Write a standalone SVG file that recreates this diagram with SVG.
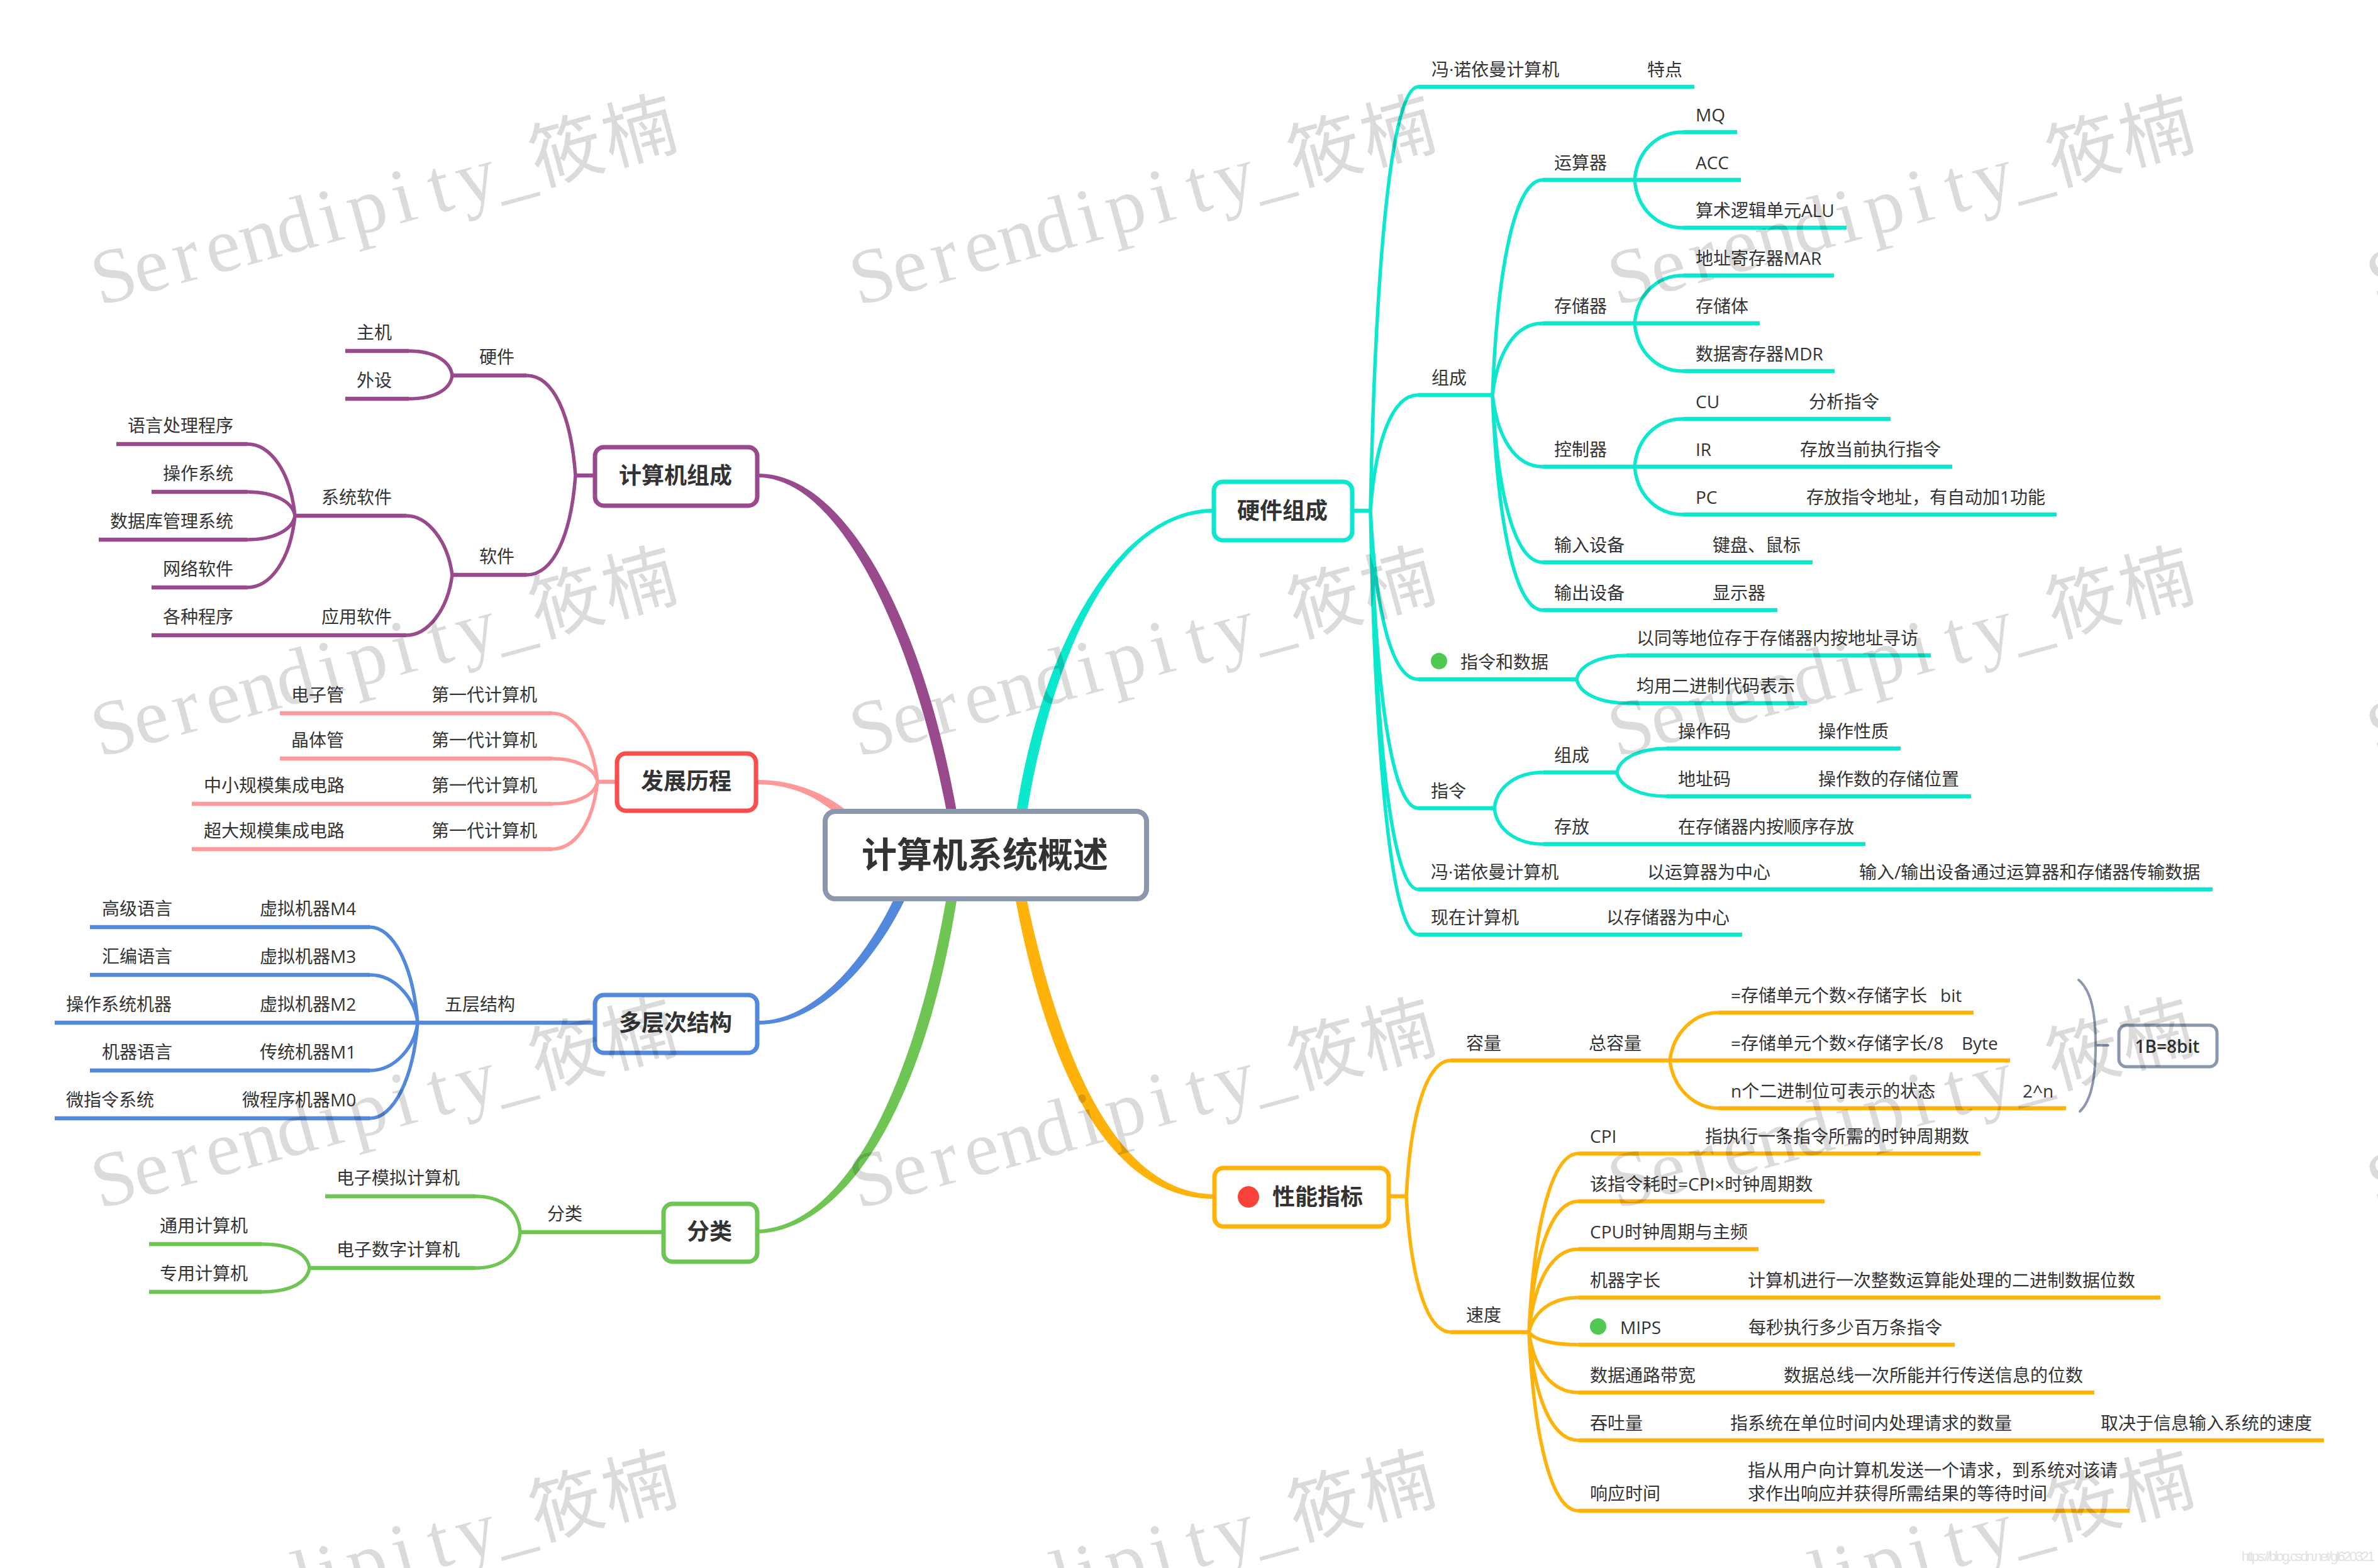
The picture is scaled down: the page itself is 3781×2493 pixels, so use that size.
<svg xmlns="http://www.w3.org/2000/svg" width="3781" height="2493" viewBox="0 0 3781 2493">
<style>
text{font-family:"Open Sans","Noto Sans CJK SC",sans-serif;fill:#333}
.t{font-size:28px}
.n{font-size:36px;font-weight:700}
.m{text-anchor:middle}
.box{fill:#fff;stroke-width:7}
.c{fill:none;stroke-width:5.5;stroke-linecap:round}
.l{fill:none;stroke-width:6.5}
.s{stroke:#984a8c}.r{stroke:#ff9999}.b{stroke:#5289dc}.g{stroke:#6fc554}.o{stroke:#ffb20a}.q{stroke:#0ce8ce}.y{stroke:#8a97ad}
.w{font-family:"Liberation Serif",serif;font-size:124px;fill:#000;fill-opacity:.14;text-anchor:middle}
.w tspan{font-family:"Noto Sans CJK SC",sans-serif;font-size:116px;font-weight:400}
</style>
<defs>
<text id="wm" class="w" x="34 94 152 212 272 332 390 450 510 570 630 690 780 900">Serendipity_<tspan>筱楠</tspan></text>
</defs>
<rect width="3781" height="2493" fill="#fff"/>
<g id="connectors">
<g id="main-branches">
<path fill="#984a8c" d="M1205 753C1350 753 1470 1000 1521 1290L1505 1290C1452 1010 1335 759 1205 759Z"/>
<path fill="#0ce8ce" d="M1929 815C1785 815 1680 1010 1633 1290L1616 1290C1660 1010 1785 809 1929 809Z"/>
<path fill="#ff9999" d="M1205 1240C1260 1240 1310 1260 1345 1288L1322 1288C1290 1262 1250 1247 1205 1247Z"/>
<path fill="#5289dc" d="M1205 1629C1310 1629 1395 1520 1438 1432L1420 1432C1380 1515 1300 1623 1205 1623Z"/>
<path fill="#6fc554" d="M1205 1961C1350 1955 1470 1750 1521 1432L1504 1432C1450 1740 1340 1950 1205 1955Z"/>
<path fill="#ffb20a" d="M1929 1899C1780 1895 1690 1700 1633 1432L1615 1432C1670 1720 1770 1905 1929 1906Z"/>
</g>
<g id="hardware-links">
<path class="c q" d="M2179 812C2187 408 2213 138 2255 138M2179 812C2187 702 2213 628 2255 628M2179 812C2187 973 2213 1080 2255 1080M2179 812C2187 1096 2213 1285 2255 1285M2179 812C2187 1173 2213 1414 2255 1414M2179 812C2187 1216 2213 1486 2255 1486"/>
<path class="c q" d="M2373 628C2381 423 2409 286 2453 286M2373 628C2381 560 2409 514 2453 514M2373 628C2381 696 2409 742 2453 742M2373 628C2381 788 2409 894 2453 894M2373 628C2381 833 2409 970 2453 970"/>
<path class="c q" d="M2599 286C2603 240 2635 210 2676 210M2599 286C2603 332 2635 362 2676 362M2599 514C2603 468 2635 438 2676 438M2599 514C2603 560 2635 590 2676 590M2599 742C2603 696 2635 666 2676 666M2599 742C2603 788 2635 818 2676 818"/>
<path class="c q" d="M2507 1080C2511 1057 2545 1042 2587 1042M2507 1080C2511 1103 2545 1118 2587 1118M2376 1285C2380 1250 2412 1228 2454 1228M2376 1285C2380 1320 2412 1342 2454 1342M2571 1228C2575 1205 2608 1190 2650 1190M2571 1228C2575 1251 2608 1266 2650 1266"/>
<path class="l q" d="M2153 812H2179M2255 138H2694M2255 628H2373M2255 1080H2507M2255 1285H2376M2255 1414H3518M2255 1486H2770M2453 286H2768M2453 514H2798M2453 742H3104M2453 894H2882M2453 970H2826M2676 210H2762M2676 362H2936M2676 438H2916M2676 590H2917M2676 666H3006M2676 818H3270M2587 1042H3070M2587 1118H2873M2454 1228H2571M2454 1342H2966M2650 1190H3022M2650 1266H3134"/>
</g>
<g id="performance-links">
<path class="c o" d="M2236 1902C2243 1772 2268 1686 2307 1686M2236 1902C2243 2032 2268 2118 2307 2118M2655 1686C2661 1640 2695 1610 2733 1610M2655 1686C2661 1732 2695 1762 2733 1762"/>
<path class="c o" d="M2431 2118C2439 1948 2467 1834 2510 1834M2431 2118C2439 1993 2467 1910 2510 1910M2431 2118C2439 2039 2467 1986 2510 1986M2431 2118C2439 2085 2467 2063 2510 2063M2431 2118C2439 2130 2467 2138 2510 2138M2431 2118C2439 2176 2467 2214 2510 2214M2431 2118C2439 2221 2467 2290 2510 2290M2431 2118C2439 2288 2467 2402 2510 2402"/>
<path class="l o" d="M2211 1902H2236M2307 1686H3196M2307 2118H2431M2733 1610H3138M2733 1762H3285M2510 1834H3149M2510 1910H2901M2510 1986H2796M2510 2063H3435M2510 2138H3108M2510 2214H3330M2510 2290H3695M2510 2402H3386"/>
<path class="y" fill="none" stroke-width="4" stroke-linecap="round" d="M3305 1558C3325 1575 3332 1610 3332 1662C3332 1715 3325 1750 3307 1767M3332 1662H3352"/>
</g>
<g id="composition-links">
<path class="c s" d="M915 756C908 660 880 597 837 597M915 756C908 851 880 914 837 914M719 597C716 574 690 558 650 558M719 597C716 620 690 634 650 634M719 914C712 860 680 820 646 820M719 914C712 970 680 1010 646 1010M469 820C462 750 430 706 393 706M469 820C465 797 435 782 393 782M469 820C465 843 435 858 393 858M469 820C462 890 430 934 393 934"/>
<path class="l s" d="M943 756H915M837 597H719M837 914H719M650 558H549M650 634H549M646 820H469M646 1010H241M393 706H185M393 782H241M393 858H157M393 934H241"/>
</g>
<g id="history-links">
<path class="c r" d="M950 1243C943 1178 915 1134 877 1134M950 1243C945 1220 915 1206 877 1206M950 1243C945 1266 915 1278 877 1278M950 1243C943 1308 915 1350 877 1350"/>
<path class="l r" d="M980 1243H950M877 1134H445M877 1206H445M877 1278H305M877 1350H305"/>
</g>
<g id="levels-links">
<path class="c b" d="M664 1626C657 1535 625 1474 588 1474M664 1626C660 1590 630 1550 588 1550M664 1626C660 1662 630 1702 588 1702M664 1626C657 1717 625 1778 588 1778"/>
<path class="l b" d="M945 1626H87M588 1474H143M588 1550H143M588 1702H143M588 1778H87"/>
</g>
<g id="class-links">
<path class="c g" d="M827 1959C824 1925 800 1902 756 1902M827 1959C824 1993 800 2016 756 2016M492 2016C489 1995 465 1978 416 1978M492 2016C489 2037 465 2054 416 2054"/>
<path class="l g" d="M1052 1959H827M756 1902H517M756 2016H492M416 1978H237M416 2054H237"/>
</g>
</g>
<g id="node-root"><rect class="box y" x="1312" y="1290" width="511" height="139" rx="16" style="stroke-width:8"/><text class="m" x="1566" y="1379" font-size="56" font-weight="700">计算机系统概述</text></g>
<g id="node-hardware"><rect class="box q" x="1930" y="766" width="220" height="93" rx="14"/><text class="n m" x="2039" y="825">硬件组成</text></g>
<g id="node-performance"><rect class="box o" x="1931" y="1857" width="277" height="93" rx="14"/><circle cx="1985" cy="1903" r="17" fill="#f9423a"/><text class="n" x="2023" y="1916">性能指标</text></g>
<g id="node-composition"><rect class="box s" x="946" y="711" width="258" height="93" rx="14"/><text class="n m" x="1074" y="769">计算机组成</text></g>
<g id="node-history"><rect class="box" stroke="#fa4d4d" x="981" y="1198" width="221" height="91" rx="14"/><text class="n m" x="1091" y="1255">发展历程</text></g>
<g id="node-levels"><rect class="box b" x="946" y="1582" width="258" height="92" rx="14"/><text class="n m" x="1074" y="1639">多层次结构</text></g>
<g id="node-class"><rect class="box g" x="1055" y="1914" width="149" height="92" rx="14"/><text class="n m" x="1128" y="1971">分类</text></g>
<g id="node-summary"><rect class="box y" style="stroke-width:5" x="3369" y="1630" width="156" height="66" rx="12"/><text class="t m" x="3446" y="1674" font-weight="600">1B=8bit</text></g>
<g id="labels-hardware" class="t">
<text class="t" x="2276" y="121">冯·诺依曼计算机</text><text class="t" x="2619" y="121">特点</text>
<text class="t" x="2276" y="611">组成</text>
<text class="t" x="2471" y="269">运算器</text><text class="t" x="2471" y="497">存储器</text><text class="t" x="2471" y="725">控制器</text>
<text class="t" x="2696" y="193">MQ</text><text class="t" x="2696" y="269">ACC</text><text class="t" x="2696" y="345">算术逻辑单元ALU</text>
<text class="t" x="2696" y="421">地址寄存器MAR</text><text class="t" x="2696" y="497">存储体</text><text class="t" x="2696" y="573">数据寄存器MDR</text>
<text class="t" x="2696" y="649">CU</text><text class="t" x="2876" y="649">分析指令</text>
<text class="t" x="2696" y="725">IR</text><text class="t" x="2862" y="725">存放当前执行指令</text>
<text class="t" x="2696" y="801">PC</text><text class="t" x="2872" y="801">存放指令地址，有自动加1功能</text>
<text class="t" x="2471" y="877">输入设备</text><text class="t" x="2723" y="877">键盘、鼠标</text>
<text class="t" x="2471" y="953">输出设备</text><text class="t" x="2723" y="953">显示器</text>
<circle cx="2288" cy="1051" r="13" fill="#4fc94f"/><text class="t" x="2322" y="1063">指令和数据</text>
<text class="t" x="2602" y="1025">以同等地位存于存储器内按地址寻访</text><text class="t" x="2602" y="1101">均用二进制代码表示</text>
<text class="t" x="2275" y="1268">指令</text><text class="t" x="2471" y="1211">组成</text><text class="t" x="2471" y="1325">存放</text>
<text class="t" x="2668" y="1173">操作码</text><text class="t" x="2891" y="1173">操作性质</text>
<text class="t" x="2668" y="1249">地址码</text><text class="t" x="2891" y="1249">操作数的存储位置</text>
<text class="t" x="2668" y="1325">在存储器内按顺序存放</text>
<text class="t" x="2275" y="1397">冯·诺依曼计算机</text><text class="t" x="2619" y="1397">以运算器为中心</text><text class="t" x="2956" y="1397">输入/输出设备通过运算器和存储器传输数据</text>
<text class="t" x="2275" y="1469">现在计算机</text><text class="t" x="2554" y="1469">以存储器为中心</text>
</g>
<g id="labels-performance">
<text class="t" x="2331" y="1669">容量</text><text class="t" x="2526" y="1669">总容量</text>
<text class="t" x="2752" y="1593">=存储单元个数×存储字长</text><text class="t" x="3085" y="1593">bit</text>
<text class="t" x="2752" y="1669">=存储单元个数×存储字长/8</text><text class="t" x="3119" y="1669">Byte</text>
<text class="t" x="2752" y="1745">n个二进制位可表示的状态</text><text class="t" x="3216" y="1745">2^n</text>
<text class="t" x="2331" y="2101">速度</text>
<text class="t" x="2528" y="1817">CPI</text><text class="t" x="2711" y="1817">指执行一条指令所需的时钟周期数</text>
<text class="t" x="2528" y="1893">该指令耗时=CPI×时钟周期数</text>
<text class="t" x="2528" y="1969">CPU时钟周期与主频</text>
<text class="t" x="2528" y="2046">机器字长</text><text class="t" x="2779" y="2046">计算机进行一次整数运算能处理的二进制数据位数</text>
<circle cx="2541" cy="2109" r="13" fill="#4fc94f"/><text class="t" x="2576" y="2121">MIPS</text><text class="t" x="2780" y="2121">每秒执行多少百万条指令</text>
<text class="t" x="2528" y="2197">数据通路带宽</text><text class="t" x="2836" y="2197">数据总线一次所能并行传送信息的位数</text>
<text class="t" x="2528" y="2273">吞吐量</text><text class="t" x="2751" y="2273">指系统在单位时间内处理请求的数量</text><text class="t" x="3340" y="2273">取决于信息输入系统的速度</text>
<text class="t" x="2528" y="2385">响应时间</text><text class="t" x="2779" y="2348">指从用户向计算机发送一个请求，到系统对该请</text><text class="t" x="2779" y="2385">求作出响应并获得所需结果的等待时间</text>
</g>
<g id="labels-composition" transform="translate(-1 -2)">
<text class="t" x="763" y="580">硬件</text><text class="t" x="763" y="897">软件</text><text class="t" x="568" y="541">主机</text><text class="t" x="568" y="617">外设</text>
<text class="t" x="512" y="803">系统软件</text><text class="t" x="512" y="993">应用软件</text>
<text class="t" x="204" y="689">语言处理程序</text><text class="t" x="260" y="765">操作系统</text><text class="t" x="176" y="841">数据库管理系统</text><text class="t" x="260" y="917">网络软件</text><text class="t" x="260" y="993">各种程序</text>
</g>
<g id="labels-history" transform="translate(0 -2)">
<text class="t" x="463" y="1117">电子管</text><text class="t" x="686" y="1117">第一代计算机</text>
<text class="t" x="463" y="1189">晶体管</text><text class="t" x="686" y="1189">第一代计算机</text>
<text class="t" x="324" y="1261">中小规模集成电路</text><text class="t" x="686" y="1261">第一代计算机</text>
<text class="t" x="324" y="1333">超大规模集成电路</text><text class="t" x="686" y="1333">第一代计算机</text>
</g>
<g id="labels-levels" transform="translate(0 -2)">
<text class="t" x="707" y="1609">五层结构</text>
<text class="t" x="162" y="1457">高级语言</text><text class="t" x="413" y="1457">虚拟机器M4</text>
<text class="t" x="162" y="1533">汇编语言</text><text class="t" x="413" y="1533">虚拟机器M3</text>
<text class="t" x="105" y="1609">操作系统机器</text><text class="t" x="413" y="1609">虚拟机器M2</text>
<text class="t" x="162" y="1685">机器语言</text><text class="t" x="413" y="1685">传统机器M1</text>
<text class="t" x="105" y="1761">微指令系统</text><text class="t" x="385" y="1761">微程序机器M0</text>
</g>
<g id="labels-class" transform="translate(-1 -2)">
<text class="t" x="871" y="1942">分类</text><text class="t" x="536" y="1885">电子模拟计算机</text><text class="t" x="536" y="1999">电子数字计算机</text><text class="t" x="255" y="1961">通用计算机</text><text class="t" x="255" y="2037">专用计算机</text>
</g>
<g id="watermark">
<use href="#wm" transform="translate(159 486) rotate(-15.3)"/><use href="#wm" transform="translate(1365 486) rotate(-15.3)"/><use href="#wm" transform="translate(2571 486) rotate(-15.3)"/><use href="#wm" transform="translate(3777 486) rotate(-15.3)"/>
<use href="#wm" transform="translate(159 1204) rotate(-15.3)"/><use href="#wm" transform="translate(1365 1204) rotate(-15.3)"/><use href="#wm" transform="translate(2571 1204) rotate(-15.3)"/><use href="#wm" transform="translate(3777 1204) rotate(-15.3)"/>
<use href="#wm" transform="translate(159 1922) rotate(-15.3)"/><use href="#wm" transform="translate(1365 1922) rotate(-15.3)"/><use href="#wm" transform="translate(2571 1922) rotate(-15.3)"/><use href="#wm" transform="translate(3777 1922) rotate(-15.3)"/>
<use href="#wm" transform="translate(159 2640) rotate(-15.3)"/><use href="#wm" transform="translate(1365 2640) rotate(-15.3)"/><use href="#wm" transform="translate(2571 2640) rotate(-15.3)"/><use href="#wm" transform="translate(3777 2640) rotate(-15.3)"/>
<text x="3564" y="2482" font-size="22" style="font-family:'Liberation Sans',sans-serif;fill:#e2e2e2" textLength="212">https://blog.csdn.net/gl620321</text>
</g>
</svg>
